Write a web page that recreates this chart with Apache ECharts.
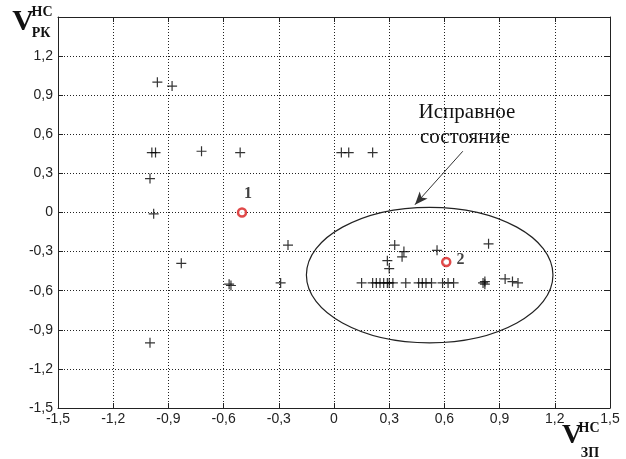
<!DOCTYPE html>
<html><head><meta charset="utf-8">
<script src="https://cdn.jsdelivr.net/npm/echarts@6/dist/echarts.min.js"></script>
<style>html,body{margin:0;background:#fff}#c{width:626px;height:459px}</style>
</head><body><div id="c"></div>
<script>
// axis range and tick step
const axisMin = -1.5, axisMax = 1.5, axisStep = 0.3;

// points outside the healthy region
const faultyPoints = [
  [-0.96, 1.00], [-0.88, 0.97], [-0.99, 0.46], [-0.97, 0.46], [-0.72, 0.47],
  [-0.51, 0.46], [-1.00, 0.26], [-0.98, -0.01], [-0.83, -0.39], [-0.57, -0.55],
  [-0.56, -0.56], [-0.29, -0.54], [-0.25, -0.25], [-1.00, -1.00],
  [0.04, 0.46], [0.08, 0.46], [0.21, 0.46]
];

// points inside the healthy region
const healthyPoints = [
  [0.33, -0.25], [0.38, -0.30], [0.37, -0.34], [0.56, -0.29], [0.84, -0.24],
  [0.29, -0.37], [0.30, -0.43],
  [0.15, -0.54], [0.21, -0.54], [0.23, -0.54], [0.25, -0.54], [0.27, -0.54],
  [0.29, -0.54], [0.30, -0.54], [0.32, -0.54], [0.39, -0.54], [0.46, -0.54],
  [0.48, -0.54], [0.50, -0.54], [0.53, -0.54], [0.59, -0.54], [0.62, -0.54],
  [0.65, -0.54], [0.81, -0.54], [0.82, -0.53], [0.82, -0.55],
  [0.93, -0.51], [0.97, -0.53], [1.00, -0.54]
];

// highlighted points and their labels
const markedPoints = [[-0.50, 0.00], [0.61, -0.38]];
const markedLabels = ['1', '2'];

// healthy-state region: centre x, centre y, half-width, half-height
const healthyRegion = [[0.52, -0.48, 0.67, 0.52]];
const arrowFrom = [0.70, 0.47];
const arrowTo = [0.44, 0.06];
const annotationLines = ['Исправное', 'состояние'];

const fmt = v => Math.abs(v) < 1e-9 ? '0' : String(Math.round(v * 10) / 10).replace('.', ',');
const plusPath = 'path://M4.4,0h1.2v10h-1.2z M0,4.4h10v1.2h-10z';
const lblFont = { fontFamily: 'Liberation Sans', fontSize: 14, color: '#222' };
const serif = 'Liberation Serif';

const baseAxis = {
  min: axisMin, max: axisMax, interval: axisStep,
  axisLine: { show: true, onZero: false, lineStyle: { color: '#222', width: 1 } },
  axisTick: { show: true, inside: true, length: 5, lineStyle: { color: '#222' } }
};

const chart = echarts.init(document.getElementById('c'), null, { renderer: 'canvas' });
chart.setOption({
  animation: false,
  backgroundColor: '#fff',
  grid: { left: 58, right: 16, top: 17, bottom: 51 },
  xAxis: [
    Object.assign({}, baseAxis, {
      type: 'value', position: 'bottom',
      axisLabel: Object.assign({ margin: 4, formatter: fmt }, lblFont),
      splitLine: { show: true, lineStyle: { color: '#222', type: [1, 2], width: 1 } }
    }),
    Object.assign({}, baseAxis, {
      type: 'value', position: 'top',
      axisLabel: { show: false }, splitLine: { show: false }
    })
  ],
  yAxis: [
    Object.assign({}, baseAxis, {
      type: 'value', position: 'left',
      axisLabel: Object.assign({ margin: 5, formatter: fmt, showMaxLabel: false }, lblFont),
      splitLine: { show: true, lineStyle: { color: '#222', type: [1, 2], width: 1 } }
    }),
    Object.assign({}, baseAxis, {
      type: 'value', position: 'right',
      axisLabel: { show: false }, splitLine: { show: false }
    })
  ],
  series: [
    {
      type: 'custom', data: healthyRegion, silent: true, z: 3,
      renderItem: function (params, api) {
        const c = api.coord([api.value(0), api.value(1)]);
        const s = api.size([api.value(2), api.value(3)]);
        return {
          type: 'ellipse',
          shape: { cx: c[0], cy: c[1], rx: s[0], ry: s[1] },
          style: { fill: 'none', stroke: '#222', lineWidth: 1.2 }
        };
      }
    },
    {
      type: 'scatter', data: faultyPoints, symbol: plusPath, symbolSize: 10,
      itemStyle: { color: '#000' }, silent: true, z: 4
    },
    {
      type: 'scatter', data: healthyPoints, symbol: plusPath, symbolSize: 10,
      itemStyle: { color: '#000' }, silent: true, z: 4,
      markLine: {
        silent: true, symbol: ['none', 'arrow'], symbolSize: [8, 13],
        label: { show: false },
        lineStyle: { color: '#333', type: 'solid', width: 1 },
        data: [[{ coord: arrowFrom }, { coord: arrowTo }]]
      }
    },
    {
      type: 'scatter', symbol: 'circle', symbolSize: 8, silent: true, z: 5,
      itemStyle: { color: '#fff', borderColor: '#d81c1c', borderWidth: 2.5 },
      data: markedPoints.map((p, i) => ({
        value: p,
        label: {
          show: true, formatter: markedLabels[i],
          position: i === 0 ? 'top' : 'right',
          offset: i === 0 ? [6, 0] : [0, -2],
          fontFamily: serif, fontWeight: 'bold', fontSize: 16, color: '#111'
        }
      }))
    }
  ],
  graphic: [
    { type: 'text', x: 467, y: 112, style: { text: annotationLines[0], font: '21px "Liberation Serif"', fill: '#111', align: 'center', verticalAlign: 'middle' } },
    { type: 'text', x: 465, y: 137, style: { text: annotationLines[1], font: '21px "Liberation Serif"', fill: '#111', align: 'center', verticalAlign: 'middle' } },
    { type: 'text', x: 23, y: 22, style: { text: 'V', font: 'bold 30px "Liberation Serif"', fill: '#111', align: 'center', verticalAlign: 'middle' } },
    { type: 'text', x: 42, y: 12, style: { text: 'НС', font: 'bold 14px "Liberation Serif"', fill: '#111', align: 'center', verticalAlign: 'middle' } },
    { type: 'text', x: 41, y: 33, style: { text: 'РК', font: 'bold 14px "Liberation Serif"', fill: '#111', align: 'center', verticalAlign: 'middle' } },
    { type: 'text', x: 572, y: 436, style: { text: 'V', font: 'bold 28px "Liberation Serif"', fill: '#111', align: 'center', verticalAlign: 'middle' } },
    { type: 'text', x: 589, y: 428, style: { text: 'НС', font: 'bold 14px "Liberation Serif"', fill: '#111', align: 'center', verticalAlign: 'middle' } },
    { type: 'text', x: 590, y: 453, style: { text: 'ЗП', font: 'bold 14px "Liberation Serif"', fill: '#111', align: 'center', verticalAlign: 'middle' } }
  ]
});
</script>
</body></html>
